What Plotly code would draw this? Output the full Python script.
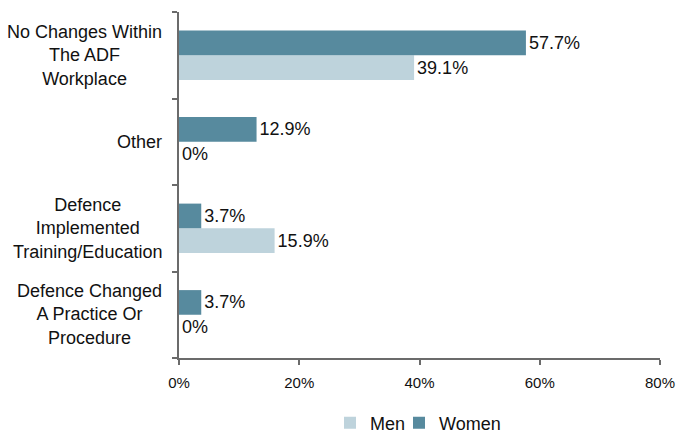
import plotly.graph_objects as go

# Survey responses: what changed after the complaint, by gender
categories = [
    "No Changes Within<br>The ADF<br>Workplace",
    "Other",
    "Defence<br>Implemented<br>Training/Education",
    "Defence Changed<br>A Practice Or<br>Procedure",
]
men_values = [39.1, 0, 15.9, 0]
women_values = [57.7, 12.9, 3.7, 3.7]
x_ticks = [0, 20, 40, 60, 80]

MEN_COLOR = "#bed3dc"
WOMEN_COLOR = "#578a9e"
AXIS_COLOR = "#6b6b6b"
TEXT_COLOR = "#111111"
FONT = "Liberation Sans, Arial, sans-serif"
W, H = 691, 433


def pct(v):
    return f"{v:g}%"


fig = go.Figure()
fig.add_trace(go.Bar(
    name="Men", y=categories, x=men_values, orientation="h",
    marker=dict(color=MEN_COLOR, line=dict(width=0)),
    text=[pct(v) for v in men_values], textposition="outside",
    textfont=dict(size=18, color=TEXT_COLOR, family=FONT),
    cliponaxis=False, legend="legend",
))
fig.add_trace(go.Bar(
    name="Women", y=categories, x=women_values, orientation="h",
    marker=dict(color=WOMEN_COLOR, line=dict(width=0)),
    text=[pct(v) for v in women_values], textposition="outside",
    textfont=dict(size=18, color=TEXT_COLOR, family=FONT),
    cliponaxis=False, legend="legend2",
))

# Category labels: centred lines, block right-aligned against the axis
for cat in categories:
    fig.add_annotation(
        x=0, xref="paper", xshift=-15, xanchor="right",
        y=cat, yref="y", yanchor="middle",
        text=cat, showarrow=False, align="center",
        font=dict(size=18, color=TEXT_COLOR, family=FONT),
    )

legend_style = dict(
    orientation="h", xanchor="left", xref="container",
    y=0.023, yanchor="middle", yref="container",
    font=dict(size=18, color=TEXT_COLOR, family=FONT),
    itemwidth=30, bgcolor="rgba(0,0,0,0)",
)

fig.update_layout(
    width=W, height=H,
    margin=dict(l=179, r=31, t=12, b=75),
    paper_bgcolor="white", plot_bgcolor="white",
    barmode="group", bargap=0.43, bargroupgap=0,
    font=dict(family=FONT, color=TEXT_COLOR),
    showlegend=True,
    legend=dict(x=(344 - 14) / W, **legend_style),
    legend2=dict(x=(413 - 14) / W, **legend_style),
)

fig.update_xaxes(
    range=[0, 80], tickvals=x_ticks, ticktext=[pct(v) for v in x_ticks],
    showgrid=False, zeroline=False,
    showline=True, linecolor=AXIS_COLOR, linewidth=1.5,
    ticks="outside", ticklen=5, tickcolor=AXIS_COLOR, tickwidth=1.5,
    ticklabelstandoff=5,
    tickfont=dict(size=15, color=TEXT_COLOR, family=FONT),
)
fig.update_yaxes(
    categoryorder="array", categoryarray=categories[::-1],
    showticklabels=False, showgrid=False, zeroline=False,
    showline=True, linecolor=AXIS_COLOR, linewidth=1.5,
    ticks="outside", ticklen=5, tickcolor=AXIS_COLOR, tickwidth=1.5,
    tickson="boundaries",
)

fig.write_html("out.html")
